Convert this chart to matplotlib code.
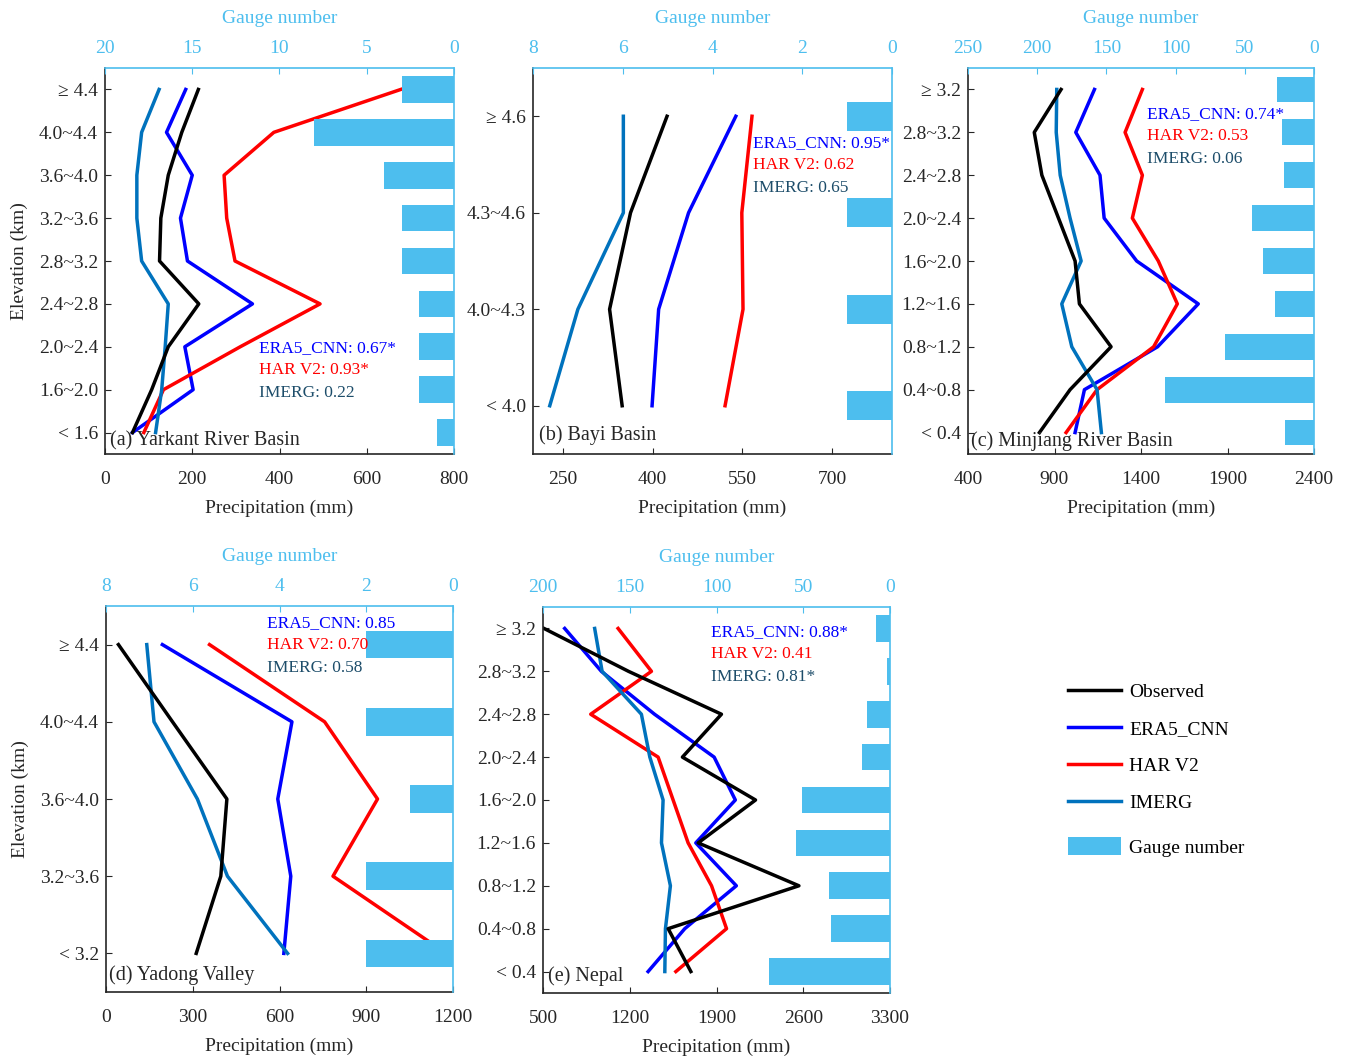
import matplotlib
matplotlib.use('Agg')
import matplotlib.pyplot as plt
from matplotlib.lines import Line2D
from matplotlib.patches import Patch

plt.rcParams['font.family'] = ['Liberation Serif', 'DejaVu Serif']
plt.rcParams['font.size'] = 14

# elevation classes, listed top to bottom
cats_a = ['≥ 4.4', '4.0~4.4', '3.6~4.0', '3.2~3.6', '2.8~3.2', '2.4~2.8', '2.0~2.4', '1.6~2.0', '< 1.6']
obs_a = [214, 176, 145, 128, 125, 215, 145, 107, 63]
era_a = [185, 141, 200, 173, 189, 338, 183, 202, 63]
har_a = [678, 387, 273, 279, 298, 493, 310, 134, 89]
imerg_a = [124, 84, 73, 73, 84, 145, 138, 130, 116]
gauge_a = [3, 8, 4, 3, 3, 2, 2, 2, 1]

cats_b = ['≥ 4.6', '4.3~4.6', '4.0~4.3', '< 4.0']
obs_b = [424, 363, 328, 349]
era_b = [539, 460, 410, 399]
har_b = [566, 549, 551, 521]
imerg_b = [351, 351, 275, 228]
gauge_b = [1, 1, 1, 1]

cats_c = ['≥ 3.2', '2.8~3.2', '2.4~2.8', '2.0~2.4', '1.6~2.0', '1.2~1.6', '0.8~1.2', '0.4~0.8', '< 0.4']
obs_c = [938, 783, 827, 923, 1019, 1044, 1227, 990, 813]
era_c = [1131, 1023, 1163, 1187, 1375, 1731, 1496, 1073, 1019]
har_c = [1408, 1308, 1408, 1350, 1500, 1610, 1473, 1146, 967]
imerg_c = [913, 910, 933, 990, 1054, 942, 1000, 1146, 1171]
gauge_c = [27, 23, 22, 45, 37, 28, 64, 108, 21]

cats_d = ['≥ 4.4', '4.0~4.4', '3.6~4.0', '3.2~3.6', '< 3.2']
obs_d = [43, 230, 418, 397, 312]
era_d = [195, 643, 594, 639, 615]
har_d = [358, 756, 939, 785, 1177]
imerg_d = [141, 166, 316, 420, 628]
gauge_d = [2, 2, 1, 2, 2]

cats_e = ['≥ 3.2', '2.8~3.2', '2.4~2.8', '2.0~2.4', '1.6~2.0', '1.2~1.6', '0.8~1.2', '0.4~0.8', '< 0.4']
obs_e = [508, 1190, 1940, 1625, 2215, 1752, 2565, 1510, 1693]
era_e = [675, 971, 1400, 1881, 2052, 1733, 2060, 1644, 1348]
har_e = [1106, 1375, 885, 1429, 1550, 1671, 1860, 1981, 1572]
imerg_e = [917, 977, 1294, 1362, 1469, 1456, 1528, 1488, 1483]
gauge_e = [8, 2, 13, 16, 51, 54, 35, 34, 70]

names = ['(a) Yarkant River Basin', '(b) Bayi Basin', '(c) Minjiang River Basin',
         '(d) Yadong Valley', '(e) Nepal']
scores = [('0.67*', '0.93*', '0.22'), ('0.95*', '0.62', '0.65'), ('0.74*', '0.53', '0.06'),
          ('0.85', '0.70', '0.58'), ('0.88*', '0.41', '0.81*')]

# pixel boxes (left, top, right, bottom) and styling per panel
boxes = [(105, 68, 454, 454), (533, 68, 892, 454), (968, 68, 1314, 454),
         (106, 606, 453, 992), (543, 607, 890, 993)]
xlims = [(0, 800), (200, 800), (400, 2400), (0, 1200), (500, 3300)]
xticks = [[0, 200, 400, 600, 800], [250, 400, 550, 700], [400, 900, 1400, 1900, 2400],
          [0, 300, 600, 900, 1200], [500, 1200, 1900, 2600, 3300]]
gmax = [20, 8, 250, 8, 200]
gticks = [[20, 15, 10, 5, 0], [8, 6, 4, 2, 0], [250, 200, 150, 100, 50, 0],
          [8, 6, 4, 2, 0], [200, 150, 100, 50, 0]]
bar_h = [0.62, 0.3, 0.6, 0.36, 0.62]
txt_pos = [(0.441, 0.275), (0.613, 0.806), (0.517, 0.881), (0.464, 0.956), (0.484, 0.935)]
lab_pos = [(0.014, 0.034), (0.017, 0.049), (0.009, 0.034), (0.009, 0.044), (0.014, 0.044)]

panels = [
    (cats_a, obs_a, era_a, har_a, imerg_a, gauge_a),
    (cats_b, obs_b, era_b, har_b, imerg_b, gauge_b),
    (cats_c, obs_c, era_c, har_c, imerg_c, gauge_c),
    (cats_d, obs_d, era_d, har_d, imerg_d, gauge_d),
    (cats_e, obs_e, era_e, har_e, imerg_e, gauge_e),
]

W, H = 1348, 1060
c_obs, c_era, c_har, c_imerg = 'black', '#0000FF', '#FF0000', '#0072BD'
c_bar = '#4DBEEE'
c_axis = '#262626'
c_imerg_txt = '#1D4D6A'
lw = 2.5

fig = plt.figure(figsize=(W / 100, H / 100), dpi=100)

for i, (cats, obs, era, har, imerg, gauge) in enumerate(panels):
    l, t, r, b = boxes[i]
    ax = fig.add_axes([l / W, 1 - b / H, (r - l) / W, (b - t) / H])
    y = list(range(len(cats)))
    ax.plot(era, y, color=c_era, lw=lw)
    ax.plot(har, y, color=c_har, lw=lw)
    ax.plot(imerg, y, color=c_imerg, lw=lw)
    ax.plot(obs, y, color=c_obs, lw=lw)
    ax.set_xlim(*xlims[i])
    ax.set_xticks(xticks[i])
    ax.set_ylim(len(cats) - 0.5, -0.5)
    ax.set_yticks(y)
    ax.set_yticklabels(cats)
    ax.tick_params(direction='in', colors=c_axis, labelsize=14, length=4)
    ax.tick_params(axis='x', pad=12)
    ax.tick_params(axis='y', pad=5)
    ax.set_xlabel('Precipitation (mm)', color=c_axis, fontsize=14, labelpad=9)
    if i in (0, 3):
        ax.set_ylabel('Elevation (km)', color=c_axis, fontsize=14, labelpad=8)
    for s in ('top', 'right'):
        ax.spines[s].set_visible(False)
    for s in ('left', 'bottom'):
        ax.spines[s].set_color(c_axis)
        ax.spines[s].set_linewidth(1.2)

    ax2 = ax.twiny()
    ax2.barh(y, gauge, height=bar_h[i], color=c_bar, zorder=2)
    ax2.set_xlim(gmax[i], 0)
    ax2.set_xticks(gticks[i])
    ax2.tick_params(direction='in', colors=c_bar, labelsize=14, length=4, pad=8)
    ax2.set_xlabel('Gauge number', color=c_bar, fontsize=14, labelpad=12)
    for s in ('left', 'bottom'):
        ax2.spines[s].set_visible(False)
    for s in ('top', 'right'):
        ax2.spines[s].set_color(c_bar)
        ax2.spines[s].set_linewidth(1.2)

    tx, ty = txt_pos[i]
    s_era, s_har, s_im = scores[i]
    ax2.text(tx, ty, 'ERA5_CNN: ' + s_era, color=c_era, fontsize=12.5,
             transform=ax.transAxes, va='center', zorder=5)
    ax2.text(tx, ty - 0.058, 'HAR V2: ' + s_har, color=c_har, fontsize=12.5,
             transform=ax.transAxes, va='center', zorder=5)
    ax2.text(tx, ty - 0.116, 'IMERG: ' + s_im, color=c_imerg_txt, fontsize=12.5,
             transform=ax.transAxes, va='center', zorder=5)
    lx, ly = lab_pos[i]
    ax2.text(lx, ly, names[i], color=c_axis, fontsize=14.5,
             transform=ax.transAxes, va='center', zorder=5)

# legend: four lines, then the gauge patch a little further down
line_handles = [Line2D([], [], color=c_obs, lw=lw), Line2D([], [], color=c_era, lw=lw),
                Line2D([], [], color=c_har, lw=lw), Line2D([], [], color=c_imerg, lw=lw)]
fig.legend(line_handles, ['Observed', 'ERA5_CNN', 'HAR V2', 'IMERG'], loc='upper left',
           bbox_to_anchor=(1068 / W, 1 - 683 / H), frameon=False, fontsize=14,
           handlelength=2.7, labelspacing=1.0, handletextpad=0.45,
           borderpad=0, borderaxespad=0)
fig.legend([Patch(facecolor=c_bar, edgecolor='none')], ['Gauge number'], loc='upper left',
           bbox_to_anchor=(1068 / W, 1 - 837 / H), frameon=False, fontsize=14,
           handlelength=2.7, handleheight=1.05, handletextpad=0.45,
           borderpad=0, borderaxespad=0)

fig.savefig('out.png', dpi=100, facecolor='white')
